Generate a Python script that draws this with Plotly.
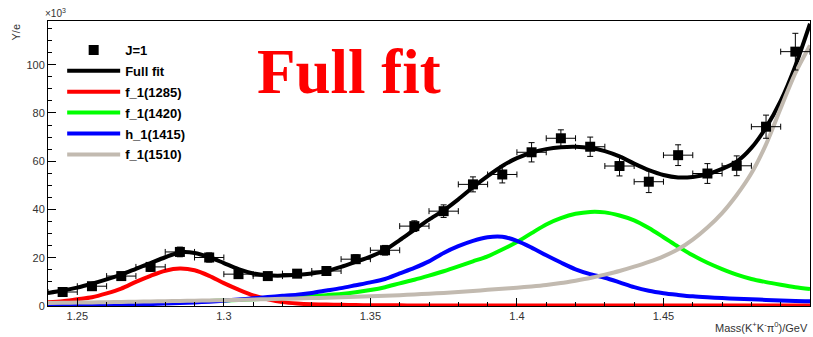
import plotly.graph_objects as go

# Measured spectrum (J=1 projection), values in units of 10^3
mass_bins = [1.245, 1.255, 1.265, 1.275, 1.285, 1.295, 1.305, 1.315, 1.325, 1.335,
             1.345, 1.355, 1.365, 1.375, 1.385, 1.395, 1.405, 1.415, 1.425, 1.435,
             1.445, 1.455, 1.465, 1.475, 1.485, 1.495]
yields = [5.8, 8.2, 12.4, 16.2, 22.4, 20.1, 13.2, 12.4, 13.4, 14.5,
          19.4, 23.1, 33.1, 39.3, 50.4, 54.5, 63.7, 69.5, 66.0, 58.0,
          51.5, 62.5, 54.9, 58.1, 74.3, 105.4]
yield_err = [1.2, 1.4, 1.6, 1.8, 2.0, 1.9, 1.6, 1.5, 1.6, 1.6,
             1.8, 2.0, 2.2, 2.6, 3.1, 3.5, 4.0, 3.5, 4.0, 4.1,
             4.5, 4.3, 4.1, 4.1, 4.8, 7.6]
bin_half_width = 0.005

# Fit curves sampled on a common mass grid
mass_grid = [1.240, 1.245, 1.250, 1.255, 1.260, 1.265, 1.270, 1.275, 1.280, 1.285,
             1.290, 1.295, 1.300, 1.305, 1.310, 1.315, 1.320, 1.325, 1.330, 1.335,
             1.340, 1.345, 1.350, 1.355, 1.360, 1.365, 1.370, 1.375, 1.380, 1.385,
             1.390, 1.395, 1.400, 1.405, 1.410, 1.415, 1.420, 1.425, 1.430, 1.435,
             1.440, 1.445, 1.450, 1.455, 1.460, 1.465, 1.470, 1.475, 1.480, 1.485,
             1.490, 1.495, 1.500]
full_fit = [5.4, 6.4, 7.6, 9.2, 11.0, 13.0, 15.4, 17.8, 20.2, 22.2,
            22.0, 20.3, 17.8, 15.3, 13.5, 12.7, 12.6, 12.9, 13.5, 14.5,
            16.2, 18.3, 20.5, 23.2, 27.3, 31.6, 35.8, 39.6, 44.2, 49.2,
            53.8, 58.0, 61.3, 63.5, 65.0, 65.8, 66.0, 65.5, 64.2, 62.0,
            59.0, 56.3, 54.3, 53.3, 53.5, 54.6, 56.8, 59.8, 65.5, 74.0,
            85.0, 99.5, 117.0]
f1_1285 = [1.5, 2.0, 2.8, 3.6, 5.2, 7.2, 10.0, 12.5, 14.6, 15.5,
           14.8, 12.5, 9.5, 6.8, 4.4, 2.8, 1.6, 1.0, 0.7, 0.6,
           0.5, 0.4, 0.3, 0.3, 0.3, 0.2, 0.2, 0.2, 0.2, 0.2,
           0.2, 0.2, 0.2, 0.2, 0.2, 0.2, 0.2, 0.2, 0.2, 0.2,
           0.2, 0.2, 0.2, 0.2, 0.2, 0.2, 0.2, 0.2, 0.2, 0.2,
           0.2, 0.2, 0.2]
f1_1420 = [0.6, 0.7, 0.8, 0.9, 1.0, 1.1, 1.3, 1.4, 1.6, 1.8,
           2.0, 2.1, 2.3, 2.5, 2.8, 3.0, 3.3, 3.6, 4.0, 4.5,
           5.0, 5.7, 6.6, 7.8, 9.4, 10.9, 12.6, 14.4, 16.4, 18.5,
           20.6, 23.4, 26.5, 30.2, 33.8, 36.4, 38.2, 39.0, 38.8, 37.5,
           35.5, 32.3, 28.5, 24.6, 21.0, 17.9, 15.3, 13.0, 11.2, 9.9,
           8.8, 7.8, 7.0]
h1_1415 = [0.3, 0.3, 0.4, 0.4, 0.5, 0.6, 0.7, 0.8, 1.0, 1.2,
           1.5, 1.8, 2.2, 2.7, 3.2, 3.7, 4.2, 4.7, 5.4, 6.4,
           7.4, 8.6, 9.8, 11.2, 13.5, 15.8, 18.5, 22.0, 24.8, 27.0,
           28.5, 28.7, 27.0, 24.2, 21.0, 18.0, 15.2, 13.2, 11.7, 9.8,
           7.8, 6.3, 5.3, 4.6, 4.0, 3.6, 3.3, 3.0, 2.8, 2.5,
           2.3, 2.1, 2.0]
f1_1510 = [1.2, 1.3, 1.4, 1.5, 1.6, 1.7, 1.8, 1.9, 2.0, 2.1,
           2.2, 2.3, 2.4, 2.5, 2.7, 2.8, 3.0, 3.1, 3.3, 3.4,
           3.6, 3.8, 4.0, 4.2, 4.5, 4.8, 5.1, 5.4, 5.8, 6.2,
           6.7, 7.1, 7.6, 8.1, 8.7, 9.5, 10.5, 11.6, 13.0, 14.5,
           16.3, 18.3, 20.6, 23.5, 27.5, 32.5, 38.5, 46.0, 55.0, 67.0,
           82.0, 96.5, 108.0]

components = [
    ("Full fit", full_fit, "#000000"),
    ("f_1(1285)", f1_1285, "#ff0000"),
    ("f_1(1420)", f1_1420, "#00ff00"),
    ("h_1(1415)", h1_1415, "#0000ff"),
    ("f_1(1510)", f1_1510, "#c2bab0"),
]

fig = go.Figure()

# legend entry for the data marker (no error bars in the key)
fig.add_trace(go.Scatter(
    x=[None], y=[None], mode="markers", name="J=1", legendgroup="data",
    marker=dict(symbol="square", size=10, color="black"),
))

for name, values, color in components:
    fig.add_trace(go.Scatter(
        x=mass_grid, y=values, mode="lines", name=name, legendgroup=name,
        line=dict(color=color, width=4, shape="spline", smoothing=0.8),
    ))

fig.add_trace(go.Scatter(
    x=mass_bins, y=yields, mode="markers", showlegend=False, legendgroup="data",
    marker=dict(symbol="square", size=10, color="black"),
    error_y=dict(type="data", array=yield_err, color="black", thickness=1, width=3),
    error_x=dict(type="constant", value=bin_half_width, color="black", thickness=1, width=3),
))

axis_font = dict(family="Liberation Sans, Arial, sans-serif", size=11, color="#333333")

fig.update_layout(
    width=813, height=337,
    margin=dict(l=48, r=3, t=21, b=31),
    paper_bgcolor="white", plot_bgcolor="white",
    showlegend=True,
    legend=dict(
        x=0.0186, y=0.951, xanchor="left", yanchor="top",
        bgcolor="rgba(0,0,0,0)", borderwidth=0,
        font=dict(family="Liberation Sans, Arial, sans-serif", size=13, color="black", weight="bold"),
        itemwidth=53, tracegroupgap=1,
    ),
    xaxis=dict(
        range=[1.24, 1.5], showgrid=False, zeroline=False,
        showline=True, linecolor="black", linewidth=1, mirror=True,
        ticks="inside", ticklen=8, tickwidth=1, tickcolor="black",
        tick0=1.25, dtick=0.05, tickformat="~g",
        minor=dict(ticks="inside", ticklen=4, dtick=0.01, tick0=1.24, tickcolor="black"),
        tickfont=axis_font,
    ),
    yaxis=dict(
        range=[0, 118.1], showgrid=False, zeroline=False,
        showline=True, linecolor="black", linewidth=1, mirror=True,
        ticks="inside", ticklen=8, tickwidth=1, tickcolor="black",
        tick0=0, dtick=20,
        minor=dict(ticks="inside", ticklen=4, dtick=5, tickcolor="black"),
        tickfont=axis_font,
    ),
    annotations=[
        dict(text="Full fit", xref="paper", yref="paper", x=0.395, y=0.82,
             xanchor="center", yanchor="middle", showarrow=False,
             font=dict(family="Liberation Serif, Times New Roman, serif", size=63,
                       color="#ff0000", weight="bold")),
        dict(text="Mass(K<sup>+</sup>K<sup>-</sup>π<sup>0</sup>)/GeV", xref="paper", yref="paper",
             x=1.0, y=-0.072, xanchor="right", yanchor="middle", showarrow=False,
             font=dict(family="Liberation Sans, Arial, sans-serif", size=11, color="#333333")),
        dict(text="Y/e", xref="paper", yref="paper", x=-0.042, y=1.0,
             xanchor="center", yanchor="top", textangle=-90, showarrow=False,
             font=dict(family="Liberation Sans, Arial, sans-serif", size=11, color="#333333")),
        dict(text="×10<sup>3</sup>", xref="paper", yref="paper", x=-0.006, y=1.0,
             xanchor="left", yanchor="bottom", showarrow=False,
             font=dict(family="Liberation Sans, Arial, sans-serif", size=10, color="#333333")),
    ],
)

fig.write_html("out.html")
